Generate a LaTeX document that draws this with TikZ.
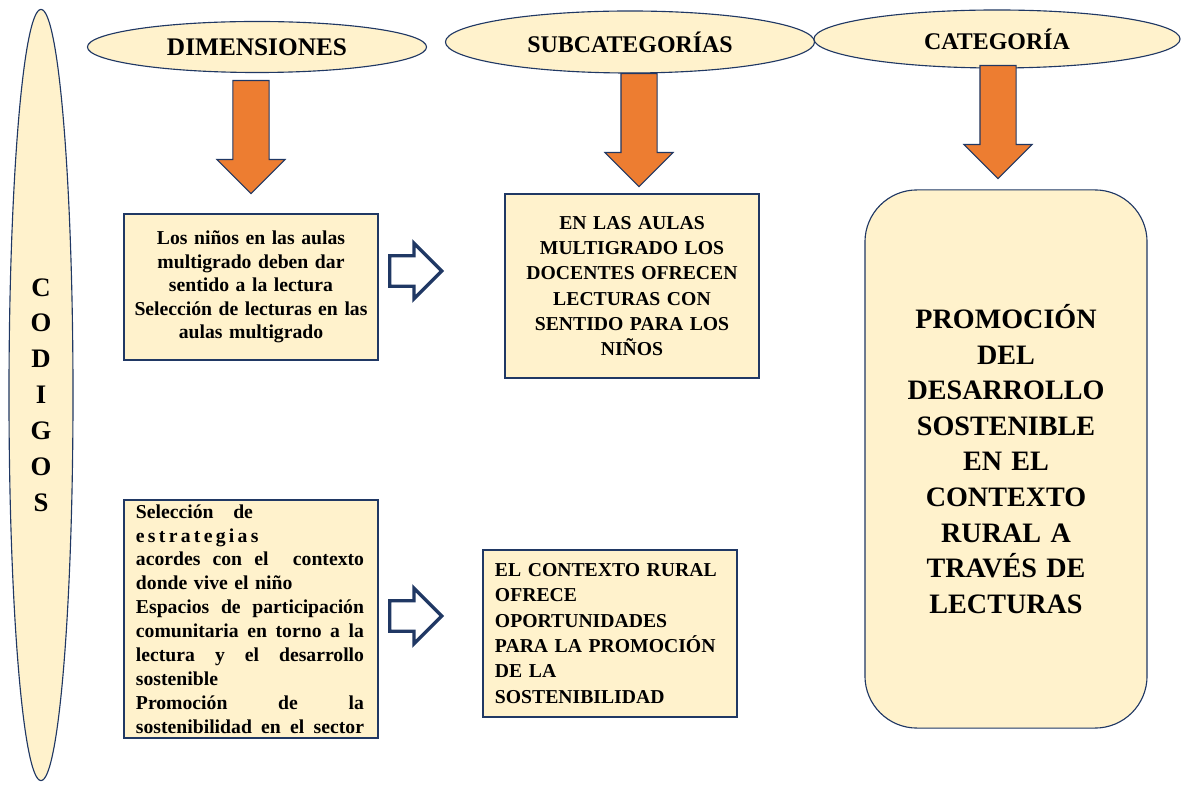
\documentclass[tikz,border=0pt]{standalone}
\usepackage{fontspec}
\setmainfont{Liberation Serif}
\usepackage{tikz}
\usetikzlibrary{shapes.geometric, shapes.arrows, positioning}

\definecolor{cream}{HTML}{FFF2CC}
\definecolor{navy}{HTML}{203864}
\definecolor{carrot}{HTML}{ED7D31}

\tikzstyle{block} = [rectangle, draw=navy, line width=0.8pt, fill=cream, text centered, inner sep=0pt, text width=5.75cm, minimum width=6.35cm, font=\fontsize{14}{16.7}\selectfont\bfseries]
\tikzstyle{roundblock} = [block, rounded corners=1.3cm, text width=6.5cm, minimum width=7.05cm, minimum height=13.45cm, font=\fontsize{20}{25.3}\selectfont\bfseries]
\tikzstyle{heading} = [ellipse, draw=navy, line width=0.8pt, fill=cream, inner sep=0pt, font=\fontsize{17}{20}\selectfont\bfseries]
\tikzstyle{downarrow} = [single arrow, draw=navy, line width=0.8pt, fill=carrot, inner sep=0.4375cm, shape border rotate=270, minimum height=2.825cm, single arrow head extend=0.4cm, anchor=tail]
\tikzstyle{rightarrow} = [single arrow, draw=navy, line width=2.4pt, fill=white, inner sep=0.3375cm, minimum height=1.3cm, single arrow head extend=0.3125cm, anchor=tail]
\newcommand{\fullline}[1]{\makebox[5.7cm][l]{#1}}

\begin{document}
\begin{tikzpicture}[x=0.025cm, y=-0.025cm]
    \useasboundingbox (0,0) rectangle (1182,786);

    % Codigos
    \node (codigos) [heading, minimum width=1.6cm, minimum height=19.275cm, align=center, font=\fontsize{19}{25.5}\selectfont\bfseries] at (41,395) {C\\O\\D\\I\\G\\O\\S};

    % Headings
    \node (dimen) [heading, minimum width=8.475cm, minimum height=1.275cm, font=\fontsize{18}{20}\selectfont\bfseries] at (257,47) {DIMENSIONES};
    \node (subcat) [heading, minimum width=9.225cm, minimum height=1.55cm] at (630,42) {SUBCATEGORÍAS};
    \node (categ) [heading, minimum width=9.15cm, minimum height=1.45cm] at (997,39) {CATEGORÍA};

    % Down arrows
    \node (arrowdim) [downarrow] at (251,80) {};
    \node (arrowsub) [downarrow] at (639,73) {};
    \node (arrowcat) [downarrow] at (998,65) {};

    % First row
    \node (ninos) [block, minimum height=3.65cm, text width=6.2cm] at (251,287) {Los niños en las aulas\\multigrado deben dar\\sentido a la lectura\\Selección de lecturas en las\\aulas multigrado};
    \node (aulas) [block, minimum height=4.6cm, font=\fontsize{14}{18}\selectfont\bfseries] at (632,286) {EN LAS AULAS\\MULTIGRADO LOS\\DOCENTES OFRECEN\\LECTURAS CON\\SENTIDO PARA LOS\\NIÑOS};

    % Second row
    \node (estrat) [block, minimum height=5.95cm, align=left, font=\fontsize{14}{17}\selectfont\bfseries] at (251,619) {Selección\quad de\\e\,s\,t\,r\,a\,t\,e\,g\,i\,a\,s\\\fullline{acordes\hfill con\hfill el\hfill\hfill contexto}\\donde vive el niño\\\fullline{Espacios\hfill de\hfill participación}\\\fullline{comunitaria\hfill en\hfill torno\hfill a\hfill la}\\\fullline{lectura\hfill y\hfill el\hfill desarrollo}\\sostenible\\\fullline{Promoción\hfill de\hfill la}\\\fullline{sostenibilidad\hfill en\hfill el\hfill sector}};
    \node (rural) [block, minimum height=4.175cm, align=left, font=\fontsize{14}{18}\selectfont\bfseries] at (610,633.5) {EL CONTEXTO RURAL\\OFRECE\\OPORTUNIDADES\\PARA LA PROMOCIÓN\\DE LA\\SOSTENIBILIDAD};

    % Category
    \node (promo) [roundblock] at (1006,459) {PROMOCIÓN\\DEL\\DESARROLLO\\SOSTENIBLE\\EN EL\\CONTEXTO\\RURAL A\\TRAVÉS DE\\LECTURAS};

    % Right arrows
    \node (toaulas) [rightarrow] at (388,271) {};
    \node (torural) [rightarrow] at (388,616) {};

\end{tikzpicture}
\end{document}
